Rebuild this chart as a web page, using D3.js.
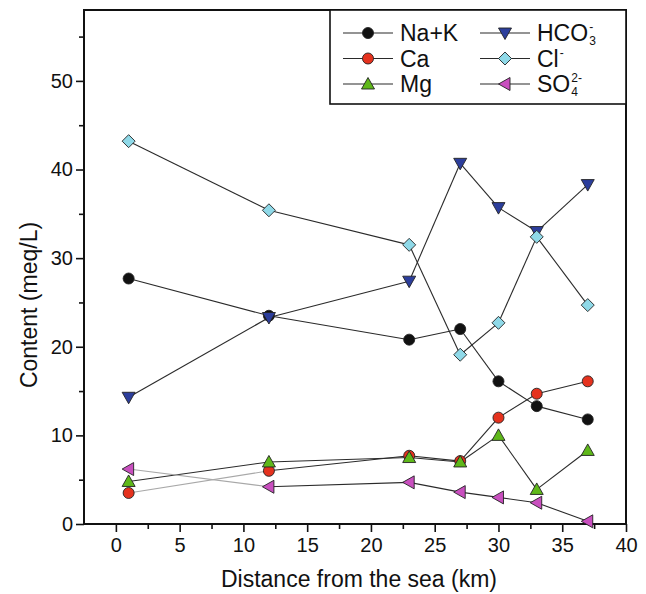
<!DOCTYPE html>
<html>
<head>
<meta charset="utf-8">
<script src="https://cdn.jsdelivr.net/npm/d3@7"></script>
<style>
  html, body { margin: 0; padding: 0; background: #fff; }
  svg { display: block; font-family: "Liberation Sans", Arial, sans-serif; }
</style>
</head>
<body>
<div id="chart"></div>
<script>
// distance from the sea (km)
const distance = [1, 12, 23, 27, 30, 33, 37];

// ion contents (meq/L)
const naK  = [27.7, 23.5, 20.8, 22.0, 16.1, 13.3, 11.8];
const ca   = [3.5, 6.0, 7.7, 7.1, 12.0, 14.7, 16.1];
const mg   = [4.8, 7.0, 7.5, 7.0, 10.0, 3.9, 8.3];
const hco3 = [14.3, 23.3, 27.4, 40.7, 35.7, 33.0, 38.3];
const cl   = [43.2, 35.4, 31.5, 19.1, 22.7, 32.4, 24.7];
const so4  = [6.2, 4.2, 4.7, 3.6, 3.0, 2.4, 0.3];

const xTicks = [0, 5, 10, 15, 20, 25, 30, 35, 40];
const yTicks = [0, 10, 20, 30, 40, 50];

const W = 646, H = 594;
const plotL = 84, plotR = 626, plotT = 10, plotB = 524;

const series = [
  { name: "Na+K", values: naK,  shape: "circle", fill: "#111111" },
  { name: "Ca",   values: ca,   shape: "circle", fill: "#e5321e", fadeFirst: true },
  { name: "Mg",   values: mg,   shape: "up",     fill: "#5fb81a" },
  { name: "HCO", sup: "-", sub: "3", values: hco3, shape: "down", fill: "#2c3e9c" },
  { name: "Cl",  sup: "-", values: cl,   shape: "diamond", fill: "#8fd9e8" },
  { name: "SO",  sup: "2-", sub: "4", values: so4, shape: "left", fill: "#c94fbf", fadeFirst: true }
];

const svg = d3.select("#chart").append("svg")
  .attr("width", W)
  .attr("height", H);

const x = d3.scaleLinear().domain([-2.5, 40]).range([plotL, plotR]);
const y = d3.scaleLinear().domain([0, 58]).range([plotB, plotT]);

function markerPath(shape) {
  const p = d3.path();
  if (shape === "circle") {
    p.arc(0, 0, 5.5, 0, 2 * Math.PI);
  } else if (shape === "up") {
    p.moveTo(0, -6.5); p.lineTo(6.5, 5); p.lineTo(-6.5, 5); p.closePath();
  } else if (shape === "down") {
    p.moveTo(0, 6.5); p.lineTo(6.5, -5); p.lineTo(-6.5, -5); p.closePath();
  } else if (shape === "left") {
    p.moveTo(-6.5, 0); p.lineTo(5, -6.5); p.lineTo(5, 6.5); p.closePath();
  } else if (shape === "diamond") {
    p.moveTo(0, -6.5); p.lineTo(6.5, 0); p.lineTo(0, 6.5); p.lineTo(-6.5, 0); p.closePath();
  }
  return p.toString();
}

// axes
const xAxis = svg.append("g")
  .attr("transform", `translate(0,${plotB})`)
  .call(d3.axisBottom(x).tickValues(xTicks).tickSize(8).tickPadding(6).tickSizeOuter(0));
const xMinor = svg.append("g")
  .attr("transform", `translate(0,${plotB})`)
  .call(d3.axisBottom(x).tickValues(d3.range(2.5, 40, 5)).tickSize(5).tickFormat(""));
const yAxis = svg.append("g")
  .attr("transform", `translate(${plotL},0)`)
  .call(d3.axisLeft(y).tickValues(yTicks).tickSize(8).tickPadding(3).tickSizeOuter(0));
const yMinor = svg.append("g")
  .attr("transform", `translate(${plotL},0)`)
  .call(d3.axisLeft(y).tickValues(d3.range(5, 58, 10)).tickSize(5).tickFormat(""));

[xAxis, xMinor, yAxis, yMinor].forEach(a => {
  a.select(".domain").remove();
  a.selectAll("line").attr("stroke", "#111").attr("stroke-width", 1.6);
  a.selectAll("text").attr("fill", "#111").style("font-size", "20px")
    .style("font-family", "'Liberation Sans', Arial, sans-serif");
});

// frame
svg.append("rect")
  .attr("x", plotL).attr("y", plotT)
  .attr("width", plotR - plotL).attr("height", plotB - plotT)
  .attr("fill", "none").attr("stroke", "#111").attr("stroke-width", 2);

// axis titles
svg.append("text")
  .attr("x", 359).attr("y", 587)
  .attr("text-anchor", "middle")
  .style("font-size", "23px").attr("fill", "#111")
  .text("Distance from the sea (km)");

svg.append("text")
  .attr("transform", "rotate(-90)")
  .attr("x", -305).attr("y", 37)
  .attr("text-anchor", "middle")
  .style("font-size", "23px").attr("fill", "#111")
  .text("Content (meq/L)");

// lines, drawn segment by segment
const plot = svg.append("g");
series.forEach(s => {
  const pts = distance.map((d, i) => [x(d), y(s.values[i])]);
  for (let i = 0; i < pts.length - 1; i++) {
    const faded = s.fadeFirst && i === 0;
    plot.append("line")
      .attr("x1", pts[i][0]).attr("y1", pts[i][1])
      .attr("x2", pts[i + 1][0]).attr("y2", pts[i + 1][1])
      .attr("stroke", faded ? "#a8a8a8" : "#2a2a2a")
      .attr("stroke-width", 1.1);
  }
});

// markers
series.forEach(s => {
  plot.append("g").selectAll("path")
    .data(s.values)
    .join("path")
    .attr("d", markerPath(s.shape))
    .attr("transform", (v, i) => `translate(${x(distance[i])},${y(v)})`)
    .attr("fill", s.fill)
    .attr("stroke", "#222")
    .attr("stroke-width", 0.9);
});

// legend
const legend = svg.append("g");
legend.append("rect")
  .attr("x", 330).attr("y", plotT)
  .attr("width", plotR - 330).attr("height", 94)
  .attr("fill", "#fff").attr("stroke", "#111").attr("stroke-width", 1.6);

series.forEach((s, i) => {
  const col = Math.floor(i / 3), row = i % 3;
  const lx = col === 0 ? 343 : 480;
  const ly = 33 + row * 25.5;
  const g = legend.append("g");
  g.append("line")
    .attr("x1", lx).attr("x2", lx + 50)
    .attr("y1", ly).attr("y2", ly)
    .attr("stroke", "#2a2a2a").attr("stroke-width", 1.1);
  g.append("path")
    .attr("d", markerPath(s.shape))
    .attr("transform", `translate(${lx + 25},${ly})`)
    .attr("fill", s.fill).attr("stroke", "#222").attr("stroke-width", 0.9);
  const t = g.append("text")
    .attr("x", lx + 57).attr("y", ly + 8)
    .style("font-size", "23px").attr("fill", "#111")
    .text(s.name);
  const w = t.node().getComputedTextLength();
  if (s.sup) {
    g.append("text")
      .attr("x", lx + 58 + w).attr("y", ly - 2)
      .style("font-size", "12px").attr("fill", "#111")
      .text(s.sup);
  }
  if (s.sub) {
    g.append("text")
      .attr("x", lx + 58 + w).attr("y", ly + 12)
      .style("font-size", "12px").attr("fill", "#111")
      .text(s.sub);
  }
});
</script>
</body>
</html>
